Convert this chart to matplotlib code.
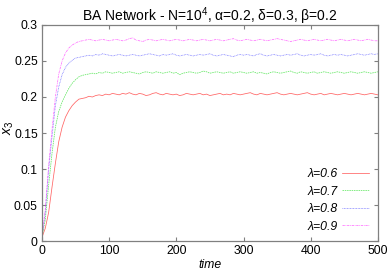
import matplotlib
matplotlib.use("Agg")
import matplotlib.pyplot as plt
import numpy as np
from matplotlib.ticker import FormatStrFormatter

plt.rcParams['font.family'] = ['Liberation Sans', 'DejaVu Sans']
plt.rcParams['mathtext.fontset'] = 'custom'
plt.rcParams['mathtext.rm'] = 'Liberation Sans'
plt.rcParams['mathtext.it'] = 'Liberation Sans:italic'

# time axis, sampled every 5 steps
time = list(range(0, 505, 5))

lambdas = ["0.6", "0.7", "0.8", "0.9"]

x3_l06 = [0.005, 0.018, 0.040, 0.075, 0.108, 0.138, 0.158, 0.172, 0.181, 0.188, 0.193, 0.197,
          0.198, 0.199, 0.201, 0.200, 0.202, 0.203, 0.202, 0.204, 0.203, 0.205,
          0.204, 0.203, 0.205, 0.204, 0.206, 0.204, 0.203, 0.205, 0.204, 0.202,
          0.203, 0.205, 0.206, 0.204, 0.203, 0.205, 0.204, 0.203, 0.204, 0.202,
          0.203, 0.205, 0.204, 0.203, 0.204, 0.205, 0.203, 0.204, 0.202, 0.203,
          0.204, 0.205, 0.203, 0.204, 0.203, 0.205, 0.204, 0.203, 0.204, 0.205,
          0.206, 0.204, 0.203, 0.205, 0.204, 0.203, 0.204, 0.205, 0.206, 0.204,
          0.203, 0.204, 0.205, 0.204, 0.203, 0.204, 0.205, 0.206, 0.204, 0.203,
          0.204, 0.205, 0.203, 0.204, 0.205, 0.204, 0.203, 0.204, 0.205, 0.204,
          0.203, 0.204, 0.205, 0.204, 0.203, 0.204, 0.205, 0.204, 0.203]

x3_l07 = [0.005, 0.030, 0.078, 0.122, 0.158, 0.180, 0.193, 0.203, 0.212, 0.219, 0.224, 0.228,
          0.230, 0.231, 0.232, 0.233, 0.232, 0.234, 0.233, 0.235, 0.234, 0.233,
          0.234, 0.235, 0.233, 0.234, 0.235, 0.234, 0.233, 0.232, 0.234, 0.235,
          0.234, 0.233, 0.235, 0.234, 0.233, 0.234, 0.235, 0.233, 0.234, 0.231,
          0.233, 0.234, 0.235, 0.234, 0.233, 0.234, 0.236, 0.235, 0.233, 0.234,
          0.235, 0.234, 0.233, 0.234, 0.235, 0.233, 0.234, 0.235, 0.234, 0.233,
          0.234, 0.235, 0.233, 0.234, 0.233, 0.232, 0.234, 0.235, 0.234, 0.233,
          0.234, 0.235, 0.236, 0.234, 0.233, 0.235, 0.234, 0.233, 0.234, 0.235,
          0.233, 0.234, 0.235, 0.234, 0.233, 0.234, 0.235, 0.234, 0.233, 0.234,
          0.235, 0.234, 0.233, 0.234, 0.235, 0.234, 0.233, 0.234, 0.235]

x3_l08 = [0.005, 0.040, 0.100, 0.145, 0.188, 0.214, 0.231, 0.241, 0.247, 0.251, 0.254, 0.255,
          0.256, 0.257, 0.258, 0.257, 0.259, 0.258, 0.260, 0.259, 0.258, 0.257,
          0.258, 0.259, 0.258, 0.257, 0.258, 0.259, 0.258, 0.257, 0.258, 0.259,
          0.260, 0.259, 0.258, 0.257, 0.259, 0.258, 0.259, 0.260, 0.258, 0.257,
          0.258, 0.259, 0.258, 0.257, 0.258, 0.259, 0.258, 0.259, 0.260, 0.258,
          0.257, 0.258, 0.259, 0.258, 0.257, 0.256, 0.258, 0.259, 0.258, 0.259,
          0.258, 0.257, 0.259, 0.260, 0.258, 0.257, 0.258, 0.259, 0.258, 0.257,
          0.258, 0.259, 0.258, 0.259, 0.260, 0.258, 0.257, 0.258, 0.259, 0.258,
          0.259, 0.260, 0.258, 0.257, 0.258, 0.259, 0.258, 0.259, 0.258, 0.257,
          0.258, 0.259, 0.260, 0.259, 0.258, 0.259, 0.260, 0.259, 0.260]

x3_l09 = [0.005, 0.045, 0.105, 0.155, 0.200, 0.232, 0.250, 0.261, 0.268, 0.272, 0.275, 0.277,
          0.278, 0.279, 0.280, 0.279, 0.278, 0.279, 0.280, 0.279, 0.278, 0.279,
          0.280, 0.279, 0.278, 0.279, 0.281, 0.282, 0.279, 0.278, 0.277, 0.279,
          0.280, 0.279, 0.278, 0.279, 0.280, 0.279, 0.278, 0.279, 0.280, 0.279,
          0.278, 0.279, 0.280, 0.279, 0.278, 0.279, 0.280, 0.279, 0.278, 0.279,
          0.280, 0.279, 0.278, 0.279, 0.280, 0.281, 0.279, 0.278, 0.279, 0.280,
          0.279, 0.278, 0.279, 0.280, 0.279, 0.278, 0.279, 0.280, 0.281, 0.280,
          0.279, 0.278, 0.277, 0.278, 0.279, 0.280, 0.279, 0.278, 0.279, 0.280,
          0.279, 0.278, 0.279, 0.280, 0.279, 0.278, 0.279, 0.280, 0.279, 0.278,
          0.279, 0.280, 0.279, 0.278, 0.279, 0.280, 0.279, 0.278, 0.278]

series = [x3_l06, x3_l07, x3_l08, x3_l09]
colors = ['#ff3030', '#30e030', '#4040ff', '#ff40ff']
styles = ['-', (0, (2, 1)), (0, (1, 1)), (0, (3, 1, 1, 1))]

fig = plt.figure(figsize=(3.92, 2.74), dpi=100)
ax = fig.add_axes([0.107, 0.120, 0.857, 0.789])

for vals, lam, c, ls in zip(series, lambdas, colors, styles):
    ax.plot(time, vals, color=c, lw=0.55, ls=ls, alpha=0.75, label=u'\u03bb=' + lam)

ax.set_xlim(0, 500)
ax.set_ylim(0, 0.3)
ax.set_xticks([0, 100, 200, 300, 400, 500])
ax.set_yticks([0, 0.05, 0.1, 0.15, 0.2, 0.25, 0.3])
ax.yaxis.set_major_formatter(FormatStrFormatter('%g'))
ax.tick_params(direction='in', length=3, width=0.8, color='#808080',
               labelsize=8.8, top=True, right=True, pad=3)
for sp in ax.spines.values():
    sp.set_color('#808080')
    sp.set_linewidth(0.9)

ax.set_title(u'BA Network - N=10$^4$, \u03b1=0.2, \u03b4=0.3, \u03b2=0.2', fontsize=10, pad=3)
ax.set_xlabel('time', fontstyle='italic', fontsize=8.8, labelpad=1)
# y label pushed against the left edge, as in the gnuplot original
fig.text(0.004, 0.535, '$x_3$', rotation=90, fontsize=10, ha='left', va='center')

leg = ax.legend(loc='lower right', frameon=False, markerfirst=False,
                prop={'size': 8.8, 'style': 'italic'}, handlelength=2.2,
                labelspacing=0.45, handletextpad=0.4, borderaxespad=0.3)

fig.savefig('out.png', dpi=100)
